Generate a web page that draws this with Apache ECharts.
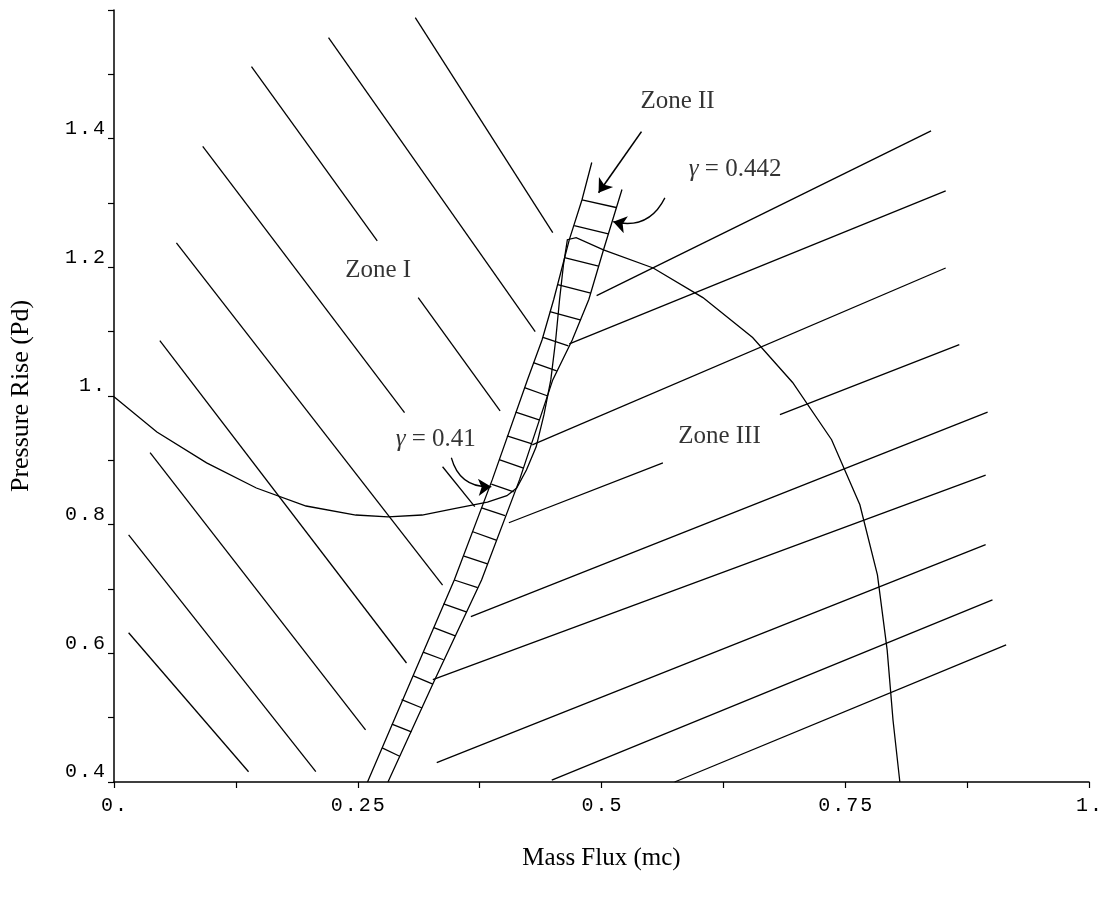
<!DOCTYPE html>
<html>
<head>
<meta charset="utf-8">
<script src="https://cdn.jsdelivr.net/npm/echarts@6/dist/echarts.min.js"></script>
<style>html,body{margin:0;padding:0;background:#fff}#c{width:1117px;height:900px}</style>
</head>
<body>
<div id="c"></div>
<script>
// ---- data (axis units: mass flux mc, pressure rise Pd) ----
const xTicks = [0, 0.25, 0.5, 0.75, 1];
const yTicks = [0.4, 0.6, 0.8, 1.0, 1.2, 1.4];

// Zone I characteristic segments (descending)
const zoneILines = [
  [[0.309,1.588],[0.450,1.254]],
  [[0.220,1.557],[0.432,1.100]],
  [[0.141,1.512],[0.270,1.241]],
  [[0.312,1.153],[0.396,0.977]],
  [[0.091,1.388],[0.298,0.974]],
  [[0.337,0.890],[0.370,0.828]],
  [[0.064,1.238],[0.337,0.706]],
  [[0.047,1.086],[0.300,0.585]],
  [[0.037,0.912],[0.258,0.481]],
  [[0.015,0.784],[0.207,0.416]],
  [[0.015,0.632],[0.138,0.416]]
];

// Zone III characteristic segments (ascending)
const zoneIIILines = [
  [[0.495,1.156],[0.838,1.412]],
  [[0.467,1.081],[0.853,1.319]],
  [[0.429,0.924],[0.853,1.199]],
  [[0.405,0.803],[0.563,0.896]],
  [[0.683,0.971],[0.867,1.080]],
  [[0.366,0.657],[0.896,0.975]],
  [[0.327,0.559],[0.894,0.877]],
  [[0.331,0.430],[0.894,0.769]],
  [[0.449,0.403],[0.901,0.683]],
  [[0.575,0.400],[0.915,0.613]]
];

// compressor characteristic curve
const characteristic = [
  [0,0.999],[0.044,0.944],[0.095,0.896],[0.146,0.857],[0.197,0.829],[0.248,0.815],
  [0.281,0.812],[0.316,0.815],[0.349,0.825],[0.383,0.835],[0.403,0.845],[0.413,0.857],
  [0.423,0.885],[0.433,0.921],[0.441,0.971],[0.448,1.025],[0.453,1.087],[0.457,1.150],
  [0.461,1.204],[0.465,1.243],[0.474,1.246],[0.502,1.227],[0.553,1.199],[0.604,1.153],
  [0.655,1.091],[0.696,1.021],[0.736,0.932],[0.765,0.831],[0.783,0.722],[0.793,0.605],
  [0.799,0.496],[0.806,0.400]
];

// Zone II band edges
const bandLeft = [
  [0.260,0.400],[0.305,0.559],[0.349,0.714],[0.388,0.870],[0.424,1.025],[0.439,1.087],
  [0.451,1.150],[0.467,1.243],[0.480,1.305],[0.490,1.363]
];
const bandRight = [
  [0.281,0.400],[0.329,0.559],[0.377,0.714],[0.416,0.870],[0.450,1.025],[0.470,1.087],
  [0.487,1.150],[0.502,1.227],[0.521,1.321]
];
// hatch marks across the band: [xLeft, yLeft, xRight, yRight]
const hatches = [
  [0.480,1.305,0.515,1.293],[0.472,1.265,0.507,1.252],[0.462,1.215,0.497,1.202],
  [0.455,1.173,0.489,1.160],[0.447,1.131,0.479,1.118],[0.440,1.091,0.466,1.078],
  [0.430,1.052,0.454,1.039],[0.421,1.013,0.445,1.000],[0.412,0.975,0.436,0.963],
  [0.403,0.938,0.428,0.926],[0.395,0.901,0.420,0.888],[0.387,0.863,0.410,0.851],
  [0.377,0.826,0.401,0.814],[0.368,0.789,0.392,0.776],[0.359,0.751,0.383,0.739],
  [0.349,0.714,0.373,0.702],[0.338,0.677,0.362,0.664],[0.328,0.640,0.350,0.627],
  [0.317,0.602,0.338,0.590],[0.307,0.565,0.327,0.552],[0.295,0.528,0.316,0.515],
  [0.285,0.490,0.305,0.478],[0.275,0.453,0.293,0.440]
];

// annotation texts and their anchor points
const annoText = ['Zone I', 'Zone II', 'Zone III', '{g|γ} = 0.442', '{g|γ} = 0.41'];
const annoX = [0.271, 0.578, 0.621, 0.637, 0.330];
const annoY = [1.195, 1.458, 0.937, 1.352, 0.933];

// arrows: [from, to]
const arrowStraight = [[[0.541,1.411],[0.497,1.316]]];
const arrowCurved = [
  [[0.565,1.308],[0.512,1.271]],
  [[0.346,0.904],[0.387,0.859]]
];
const arrowBend = [0.4, -0.4];

// ---- chart ----
const chart = echarts.init(document.getElementById('c'), null, {renderer: 'canvas'});
const black = '#000';
const lineW = 1.3;
const mono = 'Liberation Mono';
const serif = 'Liberation Serif';

function fmtNum(v) {
  const r = Math.round(v * 1000) / 1000;
  if (Math.abs(r - Math.round(r)) < 1e-9) return Math.round(r) + '.';
  return String(r);
}
// spread each character into its own fixed-width cell (typewriter look)
function spread(s) {
  return s.split('').map(ch => '{c|' + ch + '}').join('');
}
const cellRich = {c: {fontFamily: mono, fontSize: 20, color: black, width: 14, align: 'center'}};

const segSeries = (name, arr, w) => ({
  name, type: 'lines', coordinateSystem: 'cartesian2d', polyline: true, silent: true,
  lineStyle: {color: black, width: w, opacity: 1},
  data: arr.map(c => ({coords: c}))
});

const option = {
  animation: false,
  backgroundColor: '#fff',
  grid: {left: 107, right: 28, top: 10, bottom: 118, containLabel: false},
  xAxis: {
    type: 'value', min: 0, max: 1, interval: 0.25,
    axisLine: {show: true, onZero: false, lineStyle: {color: black, width: 1.5}},
    axisTick: {show: true, inside: false, length: 6, lineStyle: {color: black, width: 1.2}},
    minorTick: {show: true, splitNumber: 2, length: 6, lineStyle: {color: black, width: 1.2}},
    splitLine: {show: false}, minorSplitLine: {show: false},
    axisLabel: {formatter: v => spread(fmtNum(v)), rich: cellRich, color: black, margin: 14},
    name: 'Mass Flux (mc)', nameLocation: 'middle', nameGap: 64,
    nameTextStyle: {fontFamily: serif, fontSize: 25, color: black}
  },
  yAxis: {
    type: 'value', min: 0.4, max: 1.6, interval: 0.2,
    axisLine: {show: true, onZero: false, lineStyle: {color: black, width: 1.5}},
    axisTick: {show: true, inside: false, length: 6, lineStyle: {color: black, width: 1.2}},
    minorTick: {show: true, splitNumber: 2, length: 6, lineStyle: {color: black, width: 1.2}},
    splitLine: {show: false}, minorSplitLine: {show: false},
    axisLabel: {
      formatter: v => (Math.abs(v - 1.6) < 1e-6 ? '' : spread(fmtNum(v))),
      rich: cellRich, color: black, margin: 8, verticalAlign: 'bottom'
    },
    name: 'Pressure Rise (Pd)', nameLocation: 'middle', nameGap: 80,
    nameTextStyle: {fontFamily: serif, fontSize: 26, color: black}
  },
  series: [
    segSeries('zoneI', zoneILines, lineW),
    segSeries('zoneIII', zoneIIILines, lineW),
    segSeries('curve', [characteristic], lineW),
    segSeries('band', [bandLeft, bandRight], lineW),
    segSeries('hatch', hatches.map(h => [[h[0], h[1]], [h[2], h[3]]]), lineW),
    {
      type: 'lines', coordinateSystem: 'cartesian2d', silent: true,
      symbol: ['none', 'arrow'], symbolSize: [0, 13],
      lineStyle: {color: black, width: 1.6, opacity: 1},
      data: arrowStraight.map(c => ({coords: c}))
    },
    {
      type: 'lines', coordinateSystem: 'cartesian2d', silent: true,
      symbol: ['none', 'arrow'], symbolSize: [0, 13],
      lineStyle: {color: black, width: 1.3, opacity: 1},
      data: arrowCurved.map((c, i) => ({coords: c, lineStyle: {curveness: arrowBend[i]}}))
    },
    {
      type: 'scatter', silent: true, symbolSize: 0,
      data: annoText.map((t, i) => [annoX[i], annoY[i], t]),
      label: {
        show: true, position: [0, 0], align: 'center', verticalAlign: 'middle',
        formatter: p => p.data[2],
        fontFamily: serif, fontSize: 25, color: black,
        rich: {g: {fontFamily: serif, fontStyle: 'italic', fontSize: 25, color: black}}
      }
    }
  ]
};
chart.setOption(option);
</script>
</body>
</html>
